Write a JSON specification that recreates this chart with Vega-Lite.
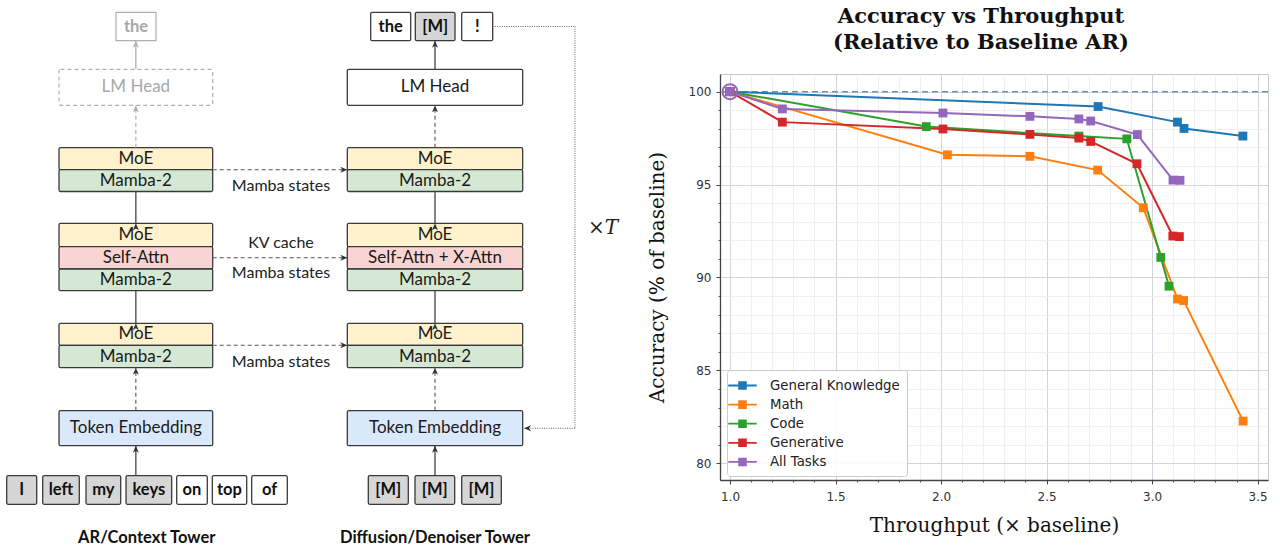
{
  "$schema": "https://vega.github.io/schema/vega-lite/v6.json",
  "background": "white",
  "padding": {"left": 0, "top": 5, "right": 0, "bottom": 0},
  "bounds": "flush",
  "spacing": 80,
  "config": {"view": {"stroke": null}},
  "datasets": {
    "boxes": [
      {"x": 59, "x2": 212.7, "y": 147.7, "y2": 169.7, "kind": "moe"},
      {"x": 59, "x2": 212.7, "y": 169.7, "y2": 191.5, "kind": "mamba"},
      {"x": 59, "x2": 212.7, "y": 223.3, "y2": 246.7, "kind": "moe"},
      {"x": 59, "x2": 212.7, "y": 246.7, "y2": 269, "kind": "attn"},
      {"x": 59, "x2": 212.7, "y": 269, "y2": 290.7, "kind": "mamba"},
      {"x": 59, "x2": 212.7, "y": 323.3, "y2": 345.3, "kind": "moe"},
      {"x": 59, "x2": 212.7, "y": 345.3, "y2": 367.7, "kind": "mamba"},
      {"x": 59, "x2": 212.7, "y": 410.7, "y2": 445.7, "kind": "embed"},
      {"x": 6.7, "x2": 36.7, "y": 475.7, "y2": 504.3, "kind": "masked"},
      {"x": 42.7, "x2": 79.3, "y": 475.7, "y2": 504.3, "kind": "masked"},
      {"x": 86, "x2": 120.7, "y": 475.7, "y2": 504.3, "kind": "masked"},
      {"x": 126, "x2": 171.7, "y": 475.7, "y2": 504.3, "kind": "masked"},
      {"x": 176.7, "x2": 207.3, "y": 475.7, "y2": 504.3, "kind": "plain"},
      {"x": 212.3, "x2": 246.7, "y": 475.7, "y2": 504.3, "kind": "plain"},
      {"x": 251.7, "x2": 287.3, "y": 475.7, "y2": 504.3, "kind": "plain"},
      {"x": 59, "x2": 212.7, "y": 69.3, "y2": 105.3, "kind": "ghosthead"},
      {"x": 116, "x2": 156, "y": 12.3, "y2": 40.7, "kind": "ghosttok"},
      {"x": 347.3, "x2": 522.7, "y": 147.7, "y2": 169.7, "kind": "moe"},
      {"x": 347.3, "x2": 522.7, "y": 169.7, "y2": 191.5, "kind": "mamba"},
      {"x": 347.3, "x2": 522.7, "y": 223.3, "y2": 246.7, "kind": "moe"},
      {"x": 347.3, "x2": 522.7, "y": 246.7, "y2": 269, "kind": "attn"},
      {"x": 347.3, "x2": 522.7, "y": 269, "y2": 290.7, "kind": "mamba"},
      {"x": 347.3, "x2": 522.7, "y": 323.3, "y2": 345.3, "kind": "moe"},
      {"x": 347.3, "x2": 522.7, "y": 345.3, "y2": 367.7, "kind": "mamba"},
      {"x": 347.3, "x2": 522.7, "y": 410.7, "y2": 445.7, "kind": "embed"},
      {"x": 347.3, "x2": 522.7, "y": 69.3, "y2": 105.3, "kind": "head"},
      {"x": 370.7, "x2": 410.7, "y": 12.3, "y2": 40.7, "kind": "plain"},
      {"x": 415.3, "x2": 455, "y": 12.3, "y2": 40.7, "kind": "masked"},
      {"x": 461.7, "x2": 492.7, "y": 12.3, "y2": 40.7, "kind": "plain"},
      {"x": 368.3, "x2": 408.3, "y": 475.7, "y2": 504.3, "kind": "masked"},
      {"x": 415, "x2": 454.7, "y": 475.7, "y2": 504.3, "kind": "masked"},
      {"x": 461.7, "x2": 501.3, "y": 475.7, "y2": 504.3, "kind": "masked"}
    ],
    "labels": [
      {"x": 135.85, "y": 158.7, "text": "MoE", "cls": "block"},
      {"x": 135.85, "y": 180.6, "text": "Mamba-2", "cls": "block"},
      {"x": 135.85, "y": 235, "text": "MoE", "cls": "block"},
      {"x": 135.85, "y": 257.9, "text": "Self-Attn", "cls": "block"},
      {"x": 135.85, "y": 279.9, "text": "Mamba-2", "cls": "block"},
      {"x": 135.85, "y": 334.3, "text": "MoE", "cls": "block"},
      {"x": 135.85, "y": 356.5, "text": "Mamba-2", "cls": "block"},
      {"x": 135.85, "y": 428.2, "text": "Token Embedding", "cls": "block"},
      {"x": 435, "y": 158.7, "text": "MoE", "cls": "block"},
      {"x": 435, "y": 180.6, "text": "Mamba-2", "cls": "block"},
      {"x": 435, "y": 235, "text": "MoE", "cls": "block"},
      {"x": 435, "y": 257.9, "text": "Self-Attn + X-Attn", "cls": "block"},
      {"x": 435, "y": 279.9, "text": "Mamba-2", "cls": "block"},
      {"x": 435, "y": 334.3, "text": "MoE", "cls": "block"},
      {"x": 435, "y": 356.5, "text": "Mamba-2", "cls": "block"},
      {"x": 435, "y": 87.3, "text": "LM Head", "cls": "block"},
      {"x": 435, "y": 428.2, "text": "Token Embedding", "cls": "block"},
      {"x": 135.85, "y": 87.3, "text": "LM Head", "cls": "ghost"},
      {"x": 136, "y": 26.5, "text": "the", "cls": "ghosttok"},
      {"x": 21.7, "y": 490, "text": "I", "cls": "token"},
      {"x": 61, "y": 490, "text": "left", "cls": "token"},
      {"x": 103.3, "y": 490, "text": "my", "cls": "token"},
      {"x": 148.8, "y": 490, "text": "keys", "cls": "token"},
      {"x": 192, "y": 490, "text": "on", "cls": "token"},
      {"x": 229.5, "y": 490, "text": "top", "cls": "token"},
      {"x": 269.5, "y": 490, "text": "of", "cls": "token"},
      {"x": 390.7, "y": 26.5, "text": "the", "cls": "token"},
      {"x": 435.2, "y": 26.5, "text": "[M]", "cls": "token"},
      {"x": 477.2, "y": 26.5, "text": "!", "cls": "token"},
      {"x": 388.3, "y": 490, "text": "[M]", "cls": "token"},
      {"x": 434.8, "y": 490, "text": "[M]", "cls": "token"},
      {"x": 481.5, "y": 490, "text": "[M]", "cls": "token"},
      {"x": 281, "y": 185.5, "text": "Mamba states", "cls": "conn"},
      {"x": 281, "y": 243.3, "text": "KV cache", "cls": "conn"},
      {"x": 281, "y": 273.3, "text": "Mamba states", "cls": "conn"},
      {"x": 281, "y": 361.7, "text": "Mamba states", "cls": "conn"},
      {"x": 146.7, "y": 538.3, "text": "AR/Context Tower", "cls": "tower"},
      {"x": 435, "y": 538.3, "text": "Diffusion/Denoiser Tower", "cls": "tower"},
      {"x": 603, "y": 228.3, "text": "×T", "cls": "times"}
    ],
    "links": [
      {"x": 435, "y": 69.3, "x2": 435, "y2": 40.7, "style": "solid"},
      {"x": 135.85, "y": 191.5, "x2": 135.85, "y2": 223.3, "style": "solid"},
      {"x": 135.85, "y": 290.7, "x2": 135.85, "y2": 323.3, "style": "solid"},
      {"x": 135.85, "y": 475.7, "x2": 135.85, "y2": 445.7, "style": "solid"},
      {"x": 435, "y": 191.5, "x2": 435, "y2": 223.3, "style": "solid"},
      {"x": 435, "y": 290.7, "x2": 435, "y2": 323.3, "style": "solid"},
      {"x": 435, "y": 475.7, "x2": 435, "y2": 445.7, "style": "solid"},
      {"x": 135.85, "y": 410.7, "x2": 135.85, "y2": 367.7, "style": "dashed"},
      {"x": 435, "y": 410.7, "x2": 435, "y2": 367.7, "style": "dashed"},
      {"x": 435, "y": 147.7, "x2": 435, "y2": 105.3, "style": "dashed"},
      {"x": 212.7, "y": 169.7, "x2": 347.3, "y2": 169.7, "style": "dashed"},
      {"x": 212.7, "y": 257.8, "x2": 347.3, "y2": 257.8, "style": "dashed"},
      {"x": 212.7, "y": 345.3, "x2": 347.3, "y2": 345.3, "style": "dashed"},
      {"x": 135.85, "y": 69.3, "x2": 135.85, "y2": 40.7, "style": "ghost"},
      {"x": 135.85, "y": 147.7, "x2": 135.85, "y2": 105.3, "style": "ghostdash"},
      {"x": 492.7, "y": 26.5, "x2": 575, "y2": 26.5, "style": "dotted"},
      {"x": 575, "y": 26.5, "x2": 575, "y2": 428.3, "style": "dotted"},
      {"x": 575, "y": 428.3, "x2": 524, "y2": 428.3, "style": "dotted"}
    ],
    "heads": [
      {"x": 435, "y": 40.7, "dir": "up", "tone": "dark"},
      {"x": 135.85, "y": 223.3, "dir": "up", "tone": "dark"},
      {"x": 135.85, "y": 323.3, "dir": "up", "tone": "dark"},
      {"x": 135.85, "y": 445.7, "dir": "up", "tone": "dark"},
      {"x": 435, "y": 223.3, "dir": "up", "tone": "dark"},
      {"x": 435, "y": 323.3, "dir": "up", "tone": "dark"},
      {"x": 435, "y": 445.7, "dir": "up", "tone": "dark"},
      {"x": 135.85, "y": 367.7, "dir": "up", "tone": "dark"},
      {"x": 435, "y": 367.7, "dir": "up", "tone": "dark"},
      {"x": 435, "y": 105.3, "dir": "up", "tone": "dark"},
      {"x": 135.85, "y": 40.7, "dir": "up", "tone": "ghost"},
      {"x": 135.85, "y": 105.3, "dir": "up", "tone": "ghost"},
      {"x": 347.3, "y": 169.7, "dir": "right", "tone": "dark"},
      {"x": 347.3, "y": 257.8, "dir": "right", "tone": "dark"},
      {"x": 347.3, "y": 345.3, "dir": "right", "tone": "dark"},
      {"x": 524, "y": 428.3, "dir": "left", "tone": "dark"}
    ],
    "perf": [
      {"task": "General Knowledge", "x": 1.0, "y": 100.0},
      {"task": "General Knowledge", "x": 2.744, "y": 99.2},
      {"task": "General Knowledge", "x": 3.12, "y": 98.36},
      {"task": "General Knowledge", "x": 3.151, "y": 98.02},
      {"task": "General Knowledge", "x": 3.43, "y": 97.61},
      {"task": "Math", "x": 1.0, "y": 100.0},
      {"task": "Math", "x": 2.03, "y": 96.6},
      {"task": "Math", "x": 2.421, "y": 96.52},
      {"task": "Math", "x": 2.742, "y": 95.78},
      {"task": "Math", "x": 2.958, "y": 93.75},
      {"task": "Math", "x": 3.12, "y": 88.84},
      {"task": "Math", "x": 3.149, "y": 88.76},
      {"task": "Math", "x": 3.431, "y": 82.27},
      {"task": "Code", "x": 1.0, "y": 100.0},
      {"task": "Code", "x": 1.93, "y": 98.12},
      {"task": "Code", "x": 2.653, "y": 97.61},
      {"task": "Code", "x": 2.88, "y": 97.46},
      {"task": "Code", "x": 3.041, "y": 91.08},
      {"task": "Code", "x": 3.08, "y": 89.53},
      {"task": "Generative", "x": 1.0, "y": 100.0},
      {"task": "Generative", "x": 1.248, "y": 98.36},
      {"task": "Generative", "x": 2.009, "y": 97.99},
      {"task": "Generative", "x": 2.421, "y": 97.7},
      {"task": "Generative", "x": 2.653, "y": 97.5},
      {"task": "Generative", "x": 2.709, "y": 97.32},
      {"task": "Generative", "x": 2.928, "y": 96.12},
      {"task": "Generative", "x": 3.098, "y": 92.23},
      {"task": "Generative", "x": 3.129, "y": 92.2},
      {"task": "All Tasks", "x": 1.0, "y": 100.0},
      {"task": "All Tasks", "x": 1.248, "y": 99.07},
      {"task": "All Tasks", "x": 2.009, "y": 98.85},
      {"task": "All Tasks", "x": 2.421, "y": 98.67},
      {"task": "All Tasks", "x": 2.653, "y": 98.53},
      {"task": "All Tasks", "x": 2.709, "y": 98.42},
      {"task": "All Tasks", "x": 2.93, "y": 97.69},
      {"task": "All Tasks", "x": 3.099, "y": 95.24},
      {"task": "All Tasks", "x": 3.132, "y": 95.23}
    ]
  },
  "hconcat": [
    {
      "width": 640,
      "height": 406,
      "view": {"stroke": null},
      "encoding": {
        "x": {"field": "x", "type": "quantitative", "scale": {"domain": [0, 640], "nice": false, "zero": false}, "axis": null},
        "y": {"field": "y", "type": "quantitative", "scale": {"domain": [74, 480], "nice": false, "zero": false, "reverse": true}, "axis": null}
      },
      "layer": [
        {
          "data": {"name": "boxes"},
          "transform": [{"filter": {"field": "kind", "oneOf": ["moe", "mamba", "attn", "embed", "head", "plain", "masked"]}}],
          "mark": {"type": "rect", "stroke": "#3a3a3a", "strokeWidth": 1.3, "cornerRadius": 1.5},
          "encoding": {
            "x2": {"field": "x2"},
            "y2": {"field": "y2"},
            "fill": {"field": "kind", "type": "nominal", "legend": null,
              "scale": {"domain": ["moe", "mamba", "attn", "embed", "head", "plain", "masked"],
                        "range": ["#fff2cc", "#d5e8d4", "#f8d4d3", "#dae8fc", "#ffffff", "#ffffff", "#d6d6d6"]}}
          }
        },
        {
          "data": {"name": "boxes"},
          "transform": [{"filter": "datum.kind == 'ghosthead'"}],
          "mark": {"type": "rect", "fill": "#ffffff", "stroke": "#b0b0b0", "strokeWidth": 1.2, "strokeDash": [4, 3], "cornerRadius": 1.5},
          "encoding": {"x2": {"field": "x2"}, "y2": {"field": "y2"}}
        },
        {
          "data": {"name": "boxes"},
          "transform": [{"filter": "datum.kind == 'ghosttok'"}],
          "mark": {"type": "rect", "fill": "#ffffff", "stroke": "#b0b0b0", "strokeWidth": 1.2},
          "encoding": {"x2": {"field": "x2"}, "y2": {"field": "y2"}}
        },
        {
          "data": {"name": "links"},
          "transform": [{"filter": "datum.style == 'solid'"}],
          "mark": {"type": "rule", "color": "#444444", "strokeWidth": 1.3},
          "encoding": {"x2": {"field": "x2"}, "y2": {"field": "y2"}}
        },
        {
          "data": {"name": "links"},
          "transform": [{"filter": "datum.style == 'dashed'"}],
          "mark": {"type": "rule", "color": "#555555", "strokeWidth": 1.1, "strokeDash": [4, 3]},
          "encoding": {"x2": {"field": "x2"}, "y2": {"field": "y2"}}
        },
        {
          "data": {"name": "links"},
          "transform": [{"filter": "datum.style == 'ghost'"}],
          "mark": {"type": "rule", "color": "#b0b0b0", "strokeWidth": 1.3},
          "encoding": {"x2": {"field": "x2"}, "y2": {"field": "y2"}}
        },
        {
          "data": {"name": "links"},
          "transform": [{"filter": "datum.style == 'ghostdash'"}],
          "mark": {"type": "rule", "color": "#b0b0b0", "strokeWidth": 1.2, "strokeDash": [4, 3]},
          "encoding": {"x2": {"field": "x2"}, "y2": {"field": "y2"}}
        },
        {
          "data": {"name": "links"},
          "transform": [{"filter": "datum.style == 'dotted'"}],
          "mark": {"type": "rule", "color": "#555555", "strokeWidth": 0.9, "strokeDash": [1, 1.3]},
          "encoding": {"x2": {"field": "x2"}, "y2": {"field": "y2"}}
        },
        {
          "data": {"name": "heads"},
          "transform": [{"filter": "datum.dir == 'up' && datum.tone == 'dark'"}],
          "mark": {"type": "point", "shape": "M0,0L0.85,2L0,1.45L-0.85,2Z", "filled": true, "size": 49, "color": "#333333", "opacity": 1}
        },
        {
          "data": {"name": "heads"},
          "transform": [{"filter": "datum.dir == 'up' && datum.tone == 'ghost'"}],
          "mark": {"type": "point", "shape": "M0,0L0.85,2L0,1.45L-0.85,2Z", "filled": true, "size": 49, "color": "#b0b0b0", "opacity": 1}
        },
        {
          "data": {"name": "heads"},
          "transform": [{"filter": "datum.dir == 'right'"}],
          "mark": {"type": "point", "shape": "M0,0L-2,-0.85L-1.45,0L-2,0.85Z", "filled": true, "size": 49, "color": "#333333", "opacity": 1}
        },
        {
          "data": {"name": "heads"},
          "transform": [{"filter": "datum.dir == 'left'"}],
          "mark": {"type": "point", "shape": "M0,0L2,-0.85L1.45,0L2,0.85Z", "filled": true, "size": 49, "color": "#333333", "opacity": 1}
        },
        {
          "data": {"name": "labels"},
          "transform": [{"filter": "datum.cls == 'block'"}],
          "mark": {"type": "text", "font": "Lato", "fontSize": 17, "color": "#1a1a1a", "align": "center", "baseline": "middle"},
          "encoding": {"text": {"field": "text"}}
        },
        {
          "data": {"name": "labels"},
          "transform": [{"filter": "datum.cls == 'ghost'"}],
          "mark": {"type": "text", "font": "Lato", "fontSize": 17, "color": "#a8a8a8", "align": "center", "baseline": "middle"},
          "encoding": {"text": {"field": "text"}}
        },
        {
          "data": {"name": "labels"},
          "transform": [{"filter": "datum.cls == 'ghosttok'"}],
          "mark": {"type": "text", "font": "Lato", "fontSize": 16.5, "fontWeight": "bold", "color": "#a8a8a8", "align": "center", "baseline": "middle"},
          "encoding": {"text": {"field": "text"}}
        },
        {
          "data": {"name": "labels"},
          "transform": [{"filter": "datum.cls == 'token'"}],
          "mark": {"type": "text", "font": "Lato", "fontSize": 16.5, "fontWeight": "bold", "color": "#111111", "align": "center", "baseline": "middle"},
          "encoding": {"text": {"field": "text"}}
        },
        {
          "data": {"name": "labels"},
          "transform": [{"filter": "datum.cls == 'conn'"}],
          "mark": {"type": "text", "font": "Lato", "fontSize": 16, "color": "#222222", "align": "center", "baseline": "middle"},
          "encoding": {"text": {"field": "text"}}
        },
        {
          "data": {"name": "labels"},
          "transform": [{"filter": "datum.cls == 'tower'"}],
          "mark": {"type": "text", "font": "Lato", "fontSize": 16.5, "fontWeight": "bold", "color": "#111111", "align": "center", "baseline": "middle"},
          "encoding": {"text": {"field": "text"}}
        },
        {
          "data": {"name": "labels"},
          "transform": [{"filter": "datum.cls == 'times'"}],
          "mark": {"type": "text", "font": "DejaVu Serif", "fontSize": 20, "fontStyle": "italic", "color": "#222222", "align": "center", "baseline": "middle"},
          "encoding": {"text": {"field": "text"}}
        }
      ]
    },
    {
      "width": 548,
      "height": 406,
      "view": {"stroke": "#c8c8c8", "strokeWidth": 1},
      "title": {
        "text": ["Accuracy vs Throughput", "(Relative to Baseline AR)"],
        "font": "DejaVu Serif", "fontSize": 21, "fontWeight": "bold", "color": "#111111",
        "lineHeight": 26, "anchor": "middle", "dx": -13, "offset": 21.5
      },
      "data": {"name": "perf"},
      "layer": [
        {
          "mark": {"type": "point", "opacity": 0},
          "encoding": {
            "x": {"field": "x", "type": "quantitative", "scale": {"domain": [0.9526, 3.549], "nice": false, "zero": false},
              "axis": {"orient": "bottom", "values": [1.0, 1.1, 1.2, 1.3, 1.4, 1.5, 1.6, 1.7, 1.8, 1.9, 2.0, 2.1, 2.2, 2.3, 2.4, 2.5, 2.6, 2.7, 2.8, 2.9, 3.0, 3.1, 3.2, 3.3, 3.4, 3.5],
                "grid": true, "gridColor": "#ececf0", "gridWidth": 0.8, "labels": false, "ticks": true, "tickSize": 2, "tickColor": "#555555", "domain": false, "title": null}},
            "y": {"field": "y", "type": "quantitative", "scale": {"domain": [79.1, 100.95], "nice": false, "zero": false},
              "axis": {"orient": "left", "values": [80, 81, 82, 83, 84, 85, 86, 87, 88, 89, 90, 91, 92, 93, 94, 95, 96, 97, 98, 99, 100],
                "grid": true, "gridColor": "#ececf0", "gridWidth": 0.8, "labels": false, "ticks": true, "tickSize": 2, "tickColor": "#555555", "domain": false, "title": null}}
          }
        },
        {
          "data": {"values": [{"ref": 100}]},
          "mark": {"type": "rule", "color": "#7190b5", "strokeWidth": 1.5, "strokeDash": [6, 4]},
          "encoding": {
            "y": {"field": "ref", "type": "quantitative", "scale": {"domain": [79.1, 100.95], "nice": false, "zero": false}, "axis": null}
          }
        },
        {
          "mark": {"type": "line", "strokeWidth": 2},
          "encoding": {
            "x": {"field": "x", "type": "quantitative", "scale": {"domain": [0.9526, 3.549], "nice": false, "zero": false},
              "axis": {"orient": "bottom", "values": [1, 1.5, 2, 2.5, 3, 3.5], "format": ".1f", "grid": true, "gridColor": "#d2d3dc", "gridWidth": 1,
                "tickSize": 4, "tickColor": "#444444", "domain": true, "domainColor": "#444444", "domainWidth": 1.3,
                "labelFont": "DejaVu Sans", "labelFontSize": 12, "labelColor": "#333333", "labelPadding": 7,
                "title": "Throughput (× baseline)", "titleFont": "DejaVu Serif", "titleFontSize": 20, "titleFontWeight": "normal", "titleColor": "#111111", "titlePadding": 13}},
            "y": {"field": "y", "type": "quantitative", "scale": {"domain": [79.1, 100.95], "nice": false, "zero": false},
              "axis": {"orient": "left", "values": [80, 85, 90, 95, 100], "grid": true, "gridColor": "#d2d3dc", "gridWidth": 1,
                "tickSize": 4, "tickColor": "#444444", "domain": true, "domainColor": "#444444", "domainWidth": 1.3,
                "labelFont": "DejaVu Sans", "labelFontSize": 12, "labelColor": "#333333", "labelPadding": 5,
                "title": "Accuracy (% of baseline)", "titleFont": "DejaVu Serif", "titleFontSize": 20, "titleFontWeight": "normal", "titleColor": "#111111", "titlePadding": 21}},
            "color": {"field": "task", "type": "nominal",
              "scale": {"domain": ["General Knowledge", "Math", "Code", "Generative", "All Tasks"], "range": ["#1f77b4", "#ff7f0e", "#2ca02c", "#d62728", "#9467bd"]},
              "legend": {"orient": "none", "legendX": 727, "legendY": 296, "title": null, "fillColor": "rgba(255,255,255,0.9)", "strokeColor": "#cccccc",
                "padding": 7, "cornerRadius": 3, "labelFont": "DejaVu Sans", "labelFontSize": 13.3, "labelColor": "#222222",
                "symbolType": "M-1.9,0H1.9M-0.45,-0.45H0.45V0.45H-0.45Z", "symbolSize": 225, "symbolStrokeWidth": 1.8, "labelOffset": 19, "rowPadding": 3.1,
                "encode": {"symbols": {"update": {"fill": {"scale": "color", "field": "value"}, "stroke": {"scale": "color", "field": "value"}, "opacity": {"value": 1}}}}}}
          }
        },
        {
          "mark": {"type": "point", "shape": "square", "filled": true, "size": 78, "opacity": 1},
          "encoding": {
            "x": {"field": "x", "type": "quantitative", "scale": {"domain": [0.9526, 3.549], "nice": false, "zero": false}, "axis": null},
            "y": {"field": "y", "type": "quantitative", "scale": {"domain": [79.1, 100.95], "nice": false, "zero": false}, "axis": null},
            "color": {"field": "task", "type": "nominal",
              "scale": {"domain": ["General Knowledge", "Math", "Code", "Generative", "All Tasks"], "range": ["#1f77b4", "#ff7f0e", "#2ca02c", "#d62728", "#9467bd"]}}
          }
        },
        {
          "data": {"values": [{"x": 1.0, "y": 100.0}]},
          "mark": {"type": "point", "shape": "circle", "filled": false, "size": 225, "strokeWidth": 2, "color": "#9467bd", "opacity": 1},
          "encoding": {
            "x": {"field": "x", "type": "quantitative", "scale": {"domain": [0.9526, 3.549], "nice": false, "zero": false}, "axis": null},
            "y": {"field": "y", "type": "quantitative", "scale": {"domain": [79.1, 100.95], "nice": false, "zero": false}, "axis": null}
          }
        }
      ],
      "resolve": {"axis": {"x": "independent", "y": "independent"}}
    }
  ]
}
